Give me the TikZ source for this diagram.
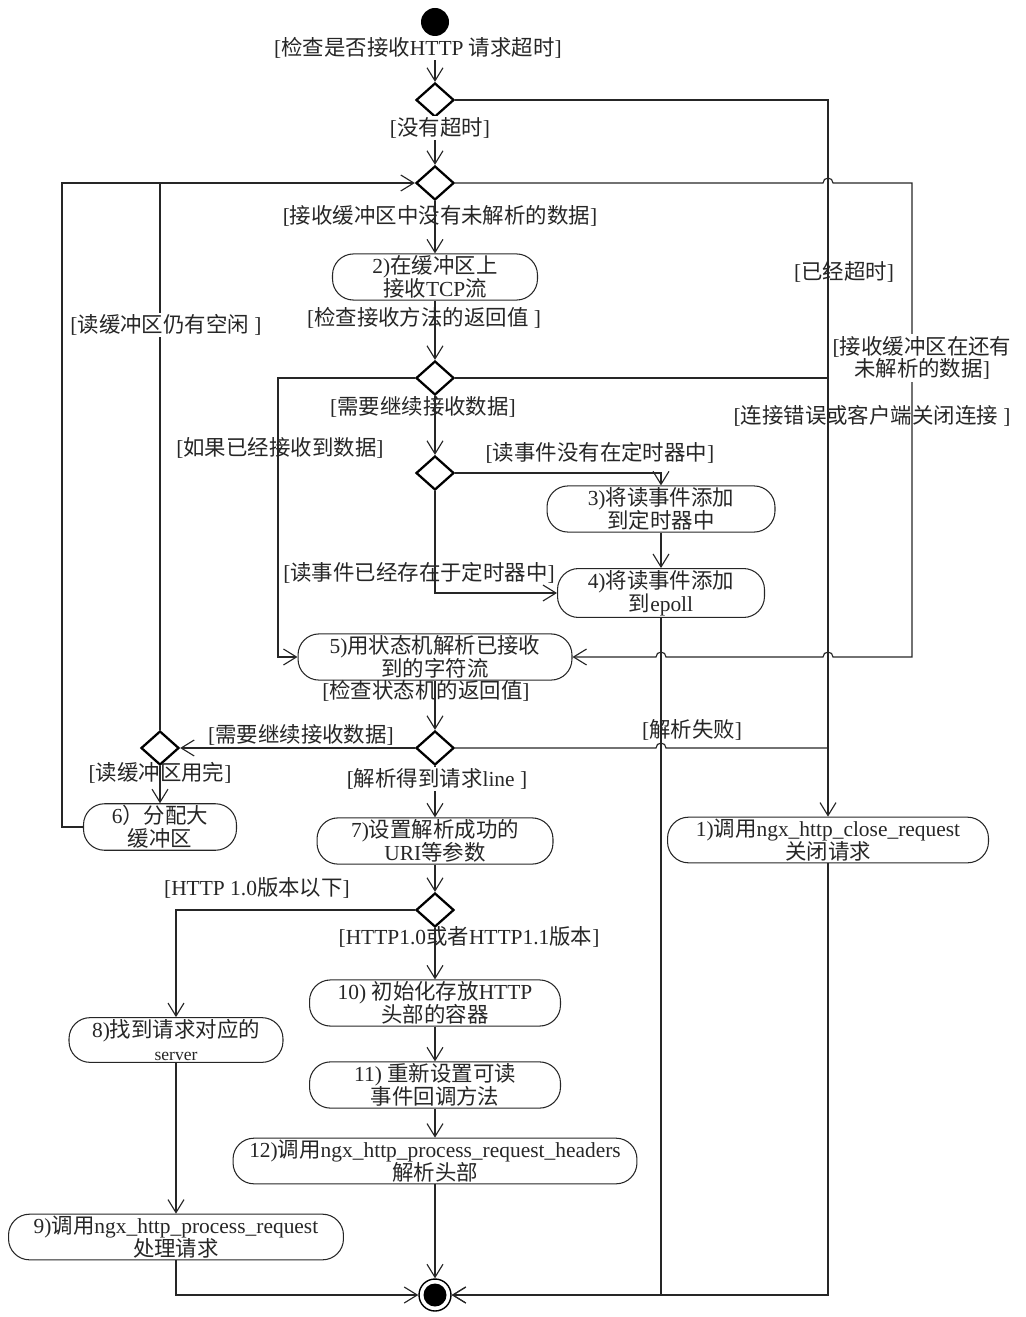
\documentclass[tikz,border=0pt]{standalone}
\usepackage{fontspec}
\setmainfont{Liberation Serif}
\newfontfamily\cjkfont{Noto Sans CJK SC}
% ideographs go to the CJK font, the rest stays serif
\XeTeXinterchartokenstate=1
\newXeTeXintercharclass\cjkclass
\newcount\cjkcode
\cjkcode="21
\loop
  \XeTeXcharclass\cjkcode=0
  \advance\cjkcode by 1
\ifnum\cjkcode<"7F \repeat
\cjkcode="4E00
\loop
  \XeTeXcharclass\cjkcode=\cjkclass
  \advance\cjkcode by 1
\ifnum\cjkcode<"A000 \repeat
\cjkcode="FF01
\loop
  \XeTeXcharclass\cjkcode=\cjkclass
  \advance\cjkcode by 1
\ifnum\cjkcode<"FF5F \repeat
\XeTeXinterchartoks 0 \cjkclass = {\cjkfont}
\XeTeXinterchartoks 4095 \cjkclass = {\cjkfont}
\XeTeXinterchartoks \cjkclass 0 = {\rmfamily}
\XeTeXinterchartoks \cjkclass 4095 = {\rmfamily}
\usetikzlibrary{arrows.meta,shapes.geometric}

\begin{document}
\begin{tikzpicture}[x=0.02cm,y=-0.02cm,->,>={Straight Barb[length=0.26cm,width=0.32cm]},
                    line width=0.65pt,color=black!85,font=\fontsize{12.2}{13}\selectfont,
                    act node/.style={rectangle,rounded corners=0.42cm,draw,line width=0.6pt,
                      minimum height=0.84cm,inner sep=1pt,align=center},
                    dec node/.style={diamond,draw=black,line width=1.3pt,minimum width=0.76cm,
                      minimum height=0.68cm,inner sep=0pt},
                    guard/.style={inner sep=1pt,align=center},
                    guard box/.style={guard,fill=white},
                    init node/.style={circle,fill=black,minimum size=0.56cm,inner sep=0pt},
                    final node/.style={circle,draw=black,line width=0.8pt,minimum size=0.64cm,inner sep=0pt,
                      path picture={\fill[black] (path picture bounding box.center) circle (0.23cm);}}]

  \useasboundingbox (0,0) rectangle (1026,1317);

  \node[init node] (start) at (435,22) {};
  \node[dec node] (d1) at (435,100) {};
  \node[dec node] (d2) at (435,183) {};
  \node[act node,minimum width=4.1cm] (n2) at (435,277) {2)在缓冲区上\\接收TCP流};
  \node[dec node] (d3) at (435,378) {};
  \node[dec node] (d4) at (435,473) {};
  \node[act node,minimum width=4.56cm] (n3) at (661,509) {3)将读事件添加\\到定时器中};
  \node[act node,minimum width=4.14cm] (n4) at (661,593) {4)将读事件添加\\到epoll};
  \node[act node,minimum width=5.48cm] (n5) at (435,657) {5)用状态机解析已接收\\到的字符流};
  \node[dec node] (d5) at (435,748) {};
  \node[dec node] (d6) at (160,748) {};
  \node[act node,minimum width=3.06cm] (n6) at (160,827) {6）分配大\\缓冲区};
  \node[act node,minimum width=4.72cm] (n7) at (435,841) {7)设置解析成功的\\URI等参数};
  \node[act node,minimum width=6.42cm] (n1) at (828,840) {1)调用ngx\_http\_close\_request\\关闭请求};
  \node[dec node] (d7) at (435,910) {};
  \node[act node,minimum width=4.28cm] (n8) at (176,1040) {8)找到请求对应的\\{\fontsize{10}{12}\selectfont server}};
  \node[act node,minimum width=5.02cm] (n10) at (435,1003) {10) 初始化存放HTTP\\头部的容器};
  \node[act node,minimum width=5.02cm] (n11) at (435,1085) {11) 重新设置可读\\事件回调方法};
  \node[act node,minimum width=8.08cm] (n12) at (435,1161) {12)调用ngx\_http\_process\_request\_headers\\解析头部};
  \node[act node,minimum width=6.7cm] (n9) at (176,1237) {9)调用ngx\_http\_process\_request\\处理请求};
  \node[final node] (end) at (435,1295) {};

  \coordinate (loopL) at (62,183);
  \coordinate (gotL) at (278,378);
  \coordinate (moreR) at (912,183);

  \draw (start) -- (d1);
  \draw (d1.east) -| (n1.north);
  \draw (d1) -- (d2);
  \draw (d2) -- (n2);
  \draw (d2.east) -- ([xshift=-0.1cm]d2 -| n1.north) arc[start angle=180,end angle=0,radius=0.1cm]
    -- (moreR) -- (moreR |- n5) -- ([xshift=0.1cm]n5 -| n1.north) arc[start angle=0,end angle=180,radius=0.1cm]
    -- ([xshift=0.1cm]n5 -| n4.south) arc[start angle=0,end angle=180,radius=0.1cm] -- (n5.east);
  \draw (n2) -- (d3);
  \draw (d3.west) -- (gotL) |- (n5.west);
  \draw[-] (d3.east) -- (d3 -| n1.north);
  \draw (d3) -- (d4);
  \draw (d4.east) -| (n3.north);
  \draw (d4.south) |- (n4.west);
  \draw (n3) -- (n4);
  \draw (n4.south) |- (end.east);
  \draw (n5) -- (d5);
  \draw (d5.west) -- (d6.east);
  \draw[-] (d5.east) -- ([xshift=-0.1cm]d5 -| n4.south) arc[start angle=180,end angle=0,radius=0.1cm] -- (d5 -| n1.north);
  \draw[-] (d6.north) -- (d6 |- d2);
  \draw (d6) -- (n6);
  \draw (n6.west) -| (loopL) -- (d2.west);
  \draw (d5) -- (n7);
  \draw (n7) -- (d7);
  \draw (d7.west) -| (n8.north);
  \draw (d7) -- (n10);
  \draw (n10) -- (n11);
  \draw (n11) -- (n12);
  \draw (n12) -- (end);
  \draw (n8) -- (n9);
  \draw (n9.south) |- (end.west);
  \draw (n1.south) |- (end.east);

  \node[guard box] (gStart) at (418,48) {[检查是否接收HTTP 请求超时]};
  \node[guard box] (gWait) at (440,128) {[没有超时]};
  \node[guard] (gTimeout) at (844,272) {[已经超时]};
  \node[guard] (gEmpty) at (440,216) {[接收缓冲区中没有未解析的数据]};
  \node[guard] (gRet) at (424,318) {[检查接收方法的返回值 ]};
  \node[guard box] (gFree) at (166,325) {[读缓冲区仍有空闲 ]};
  \node[guard box] (gLeft) at (922,358) {[接收缓冲区在还有\\未解析的数据]};
  \node[guard] (gAgain) at (423,407) {[需要继续接收数据]};
  \node[guard] (gErr) at (872,416) {[连接错误或客户端关闭连接 ]};
  \node[guard] (gGot) at (280,448) {[如果已经接收到数据]};
  \node[guard] (gNoTimer) at (600,453) {[读事件没有在定时器中]};
  \node[guard] (gInTimer) at (419,573) {[读事件已经存在于定时器中]};
  \node[guard] (gState) at (426,691) {[检查状态机的返回值]};
  \node[guard] (gMore) at (301,735) {[需要继续接收数据]};
  \node[guard] (gFail) at (692,730) {[解析失败]};
  \node[guard] (gUsed) at (160,773) {[读缓冲区用完]};
  \node[guard box] (gLine) at (437,779) {[解析得到请求line ]};
  \node[guard] (gOld) at (257,888) {[HTTP 1.0版本以下]};
  \node[guard] (gNew) at (469,937) {[HTTP1.0或者HTTP1.1版本]};
\end{tikzpicture}
\end{document}
